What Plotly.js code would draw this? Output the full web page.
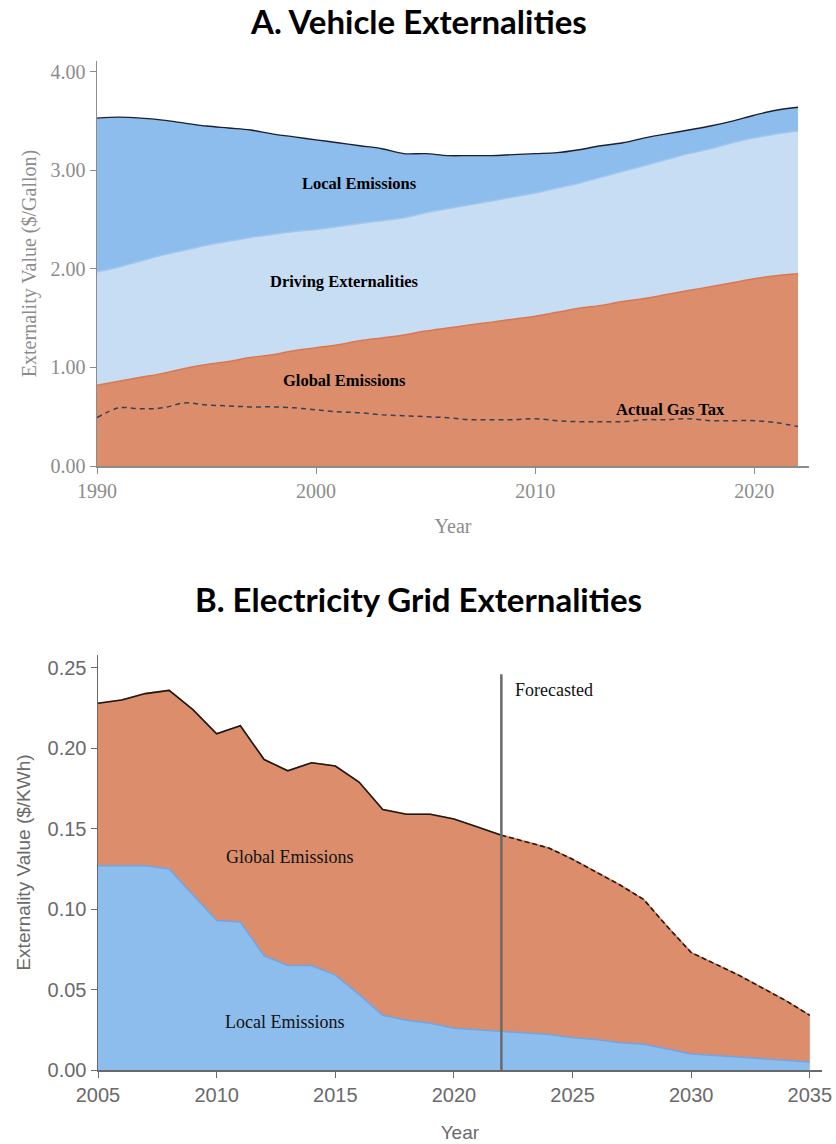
<!DOCTYPE html>
<html>
<head>
<meta charset="utf-8">
<script src="https://cdn.plot.ly/plotly-3.0.1.min.js"></script>
<style>html,body{margin:0;padding:0;background:#fff;}#chart{width:836px;height:1144px;}</style>
</head>
<body>
<div id="chart"></div>
<script>
// ---------- Panel A: Vehicle externalities ($/gallon) ----------
const yearsA = [1990,1991,1992,1993,1994,1995,1996,1997,1998,1999,2000,2001,2002,2003,2004,2005,2006,2007,2008,2009,2010,2011,2012,2013,2014,2015,2016,2017,2018,2019,2020,2021,2022];
const globalA = [0.82,0.86,0.90,0.94,0.99,1.03,1.06,1.10,1.13,1.17,1.20,1.23,1.27,1.30,1.33,1.37,1.40,1.43,1.46,1.49,1.52,1.56,1.60,1.63,1.67,1.70,1.74,1.78,1.82,1.86,1.90,1.93,1.95];
const drivingA = [1.15,1.16,1.18,1.20,1.20,1.21,1.22,1.22,1.22,1.21,1.20,1.20,1.19,1.19,1.19,1.20,1.21,1.22,1.23,1.24,1.25,1.26,1.27,1.30,1.32,1.35,1.37,1.39,1.40,1.42,1.43,1.44,1.45];
const localA = [1.56,1.52,1.45,1.37,1.29,1.21,1.15,1.09,1.02,0.96,0.91,0.85,0.79,0.73,0.65,0.60,0.54,0.50,0.46,0.43,0.40,0.36,0.34,0.32,0.29,0.28,0.26,0.24,0.23,0.22,0.23,0.24,0.24];
const gasTaxA = [0.49,0.59,0.58,0.59,0.64,0.62,0.61,0.60,0.60,0.59,0.57,0.55,0.54,0.52,0.51,0.50,0.49,0.47,0.47,0.47,0.48,0.46,0.45,0.45,0.45,0.47,0.47,0.48,0.46,0.46,0.46,0.44,0.40];

// ---------- Panel B: Electricity grid externalities ($/kWh) ----------
const yearsB = [2005,2006,2007,2008,2009,2010,2011,2012,2013,2014,2015,2016,2017,2018,2019,2020,2021,2022,2023,2024,2025,2026,2027,2028,2029,2030,2031,2032,2033,2034,2035];
const localB = [0.127,0.127,0.127,0.125,0.109,0.093,0.092,0.071,0.065,0.065,0.059,0.047,0.034,0.031,0.029,0.026,0.025,0.024,0.023,0.022,0.020,0.019,0.017,0.016,0.013,0.010,0.009,0.008,0.007,0.006,0.005];
const globalB = [0.101,0.103,0.107,0.111,0.115,0.116,0.122,0.122,0.121,0.126,0.130,0.132,0.128,0.128,0.130,0.130,0.126,0.122,0.119,0.116,0.111,0.104,0.098,0.090,0.076,0.063,0.057,0.051,0.044,0.037,0.029];
const forecastStart = 2022;

const orangeFill = 'rgb(220,142,108)';
const orangeLine = 'rgb(217,120,80)';
const blueFill = 'rgb(141,189,237)';
const blueLine = 'rgb(110,166,229)';
const lightBlueFill = 'rgb(199,221,243)';
const lightBlueLine = 'rgb(160,198,238)';

const totalB = yearsB.map((y,i)=>localB[i]+globalB[i]);
const histX = [], histY = [], fcX = [], fcY = [];
yearsB.forEach((y,i)=>{
  if (y <= forecastStart) { histX.push(y); histY.push(totalB[i]); }
  if (y >= forecastStart) { fcX.push(y); fcY.push(totalB[i]); }
});

const traces = [
  {x: yearsA, y: globalA, stackgroup: 'a', type: 'scatter', mode: 'lines', fillcolor: orangeFill,
   line: {color: orangeLine, width: 1.5, shape: 'spline'}, xaxis: 'x', yaxis: 'y', hoverinfo: 'skip'},
  {x: yearsA, y: drivingA, stackgroup: 'a', type: 'scatter', mode: 'lines', fillcolor: lightBlueFill,
   line: {color: lightBlueLine, width: 1.5, shape: 'spline'}, xaxis: 'x', yaxis: 'y', hoverinfo: 'skip'},
  {x: yearsA, y: localA, stackgroup: 'a', type: 'scatter', mode: 'lines', fillcolor: blueFill,
   line: {color: '#1c2030', width: 1.4, shape: 'spline'}, xaxis: 'x', yaxis: 'y', hoverinfo: 'skip'},
  {x: yearsA, y: gasTaxA, type: 'scatter', mode: 'lines',
   line: {color: '#3b3f55', width: 1.5, dash: '5px,4px', shape: 'spline'}, xaxis: 'x', yaxis: 'y', hoverinfo: 'skip'},

  {x: yearsB, y: localB, stackgroup: 'b', type: 'scatter', mode: 'lines', fillcolor: blueFill,
   line: {color: blueLine, width: 1.5}, xaxis: 'x2', yaxis: 'y2', hoverinfo: 'skip'},
  {x: yearsB, y: globalB, stackgroup: 'b', type: 'scatter', mode: 'lines', fillcolor: orangeFill,
   line: {color: orangeLine, width: 1.5}, xaxis: 'x2', yaxis: 'y2', hoverinfo: 'skip'},
  {x: histX, y: histY, type: 'scatter', mode: 'lines', line: {color: '#1a1a1a', width: 1.6},
   xaxis: 'x2', yaxis: 'y2', hoverinfo: 'skip'},
  {x: fcX, y: fcY, type: 'scatter', mode: 'lines', line: {color: '#1a1a1a', width: 1.6, dash: '5px,3px'},
   xaxis: 'x2', yaxis: 'y2', hoverinfo: 'skip'}
];

const serifA = 'Liberation Serif, DejaVu Serif, serif';
const sansB = 'Liberation Sans, Arial, sans-serif';
const titleFont = 'Lato, DejaVu Sans, sans-serif';
const greyA = '#8c8c8c';
const greyB = '#6a6a6a';

const layout = {
  width: 836, height: 1144,
  margin: {l: 0, r: 0, t: 0, b: 0},
  paper_bgcolor: '#fff', plot_bgcolor: 'rgba(0,0,0,0)',
  showlegend: false,
  xaxis: {
    domain: [97/836, 809/836], anchor: 'y', range: [1990, 2022.5],
    tickvals: [1990, 2000, 2010, 2020], showgrid: false, zeroline: false,
    showline: true, linecolor: greyA, linewidth: 1.5,
    ticks: 'outside', ticklen: 6, tickcolor: greyA,
    tickfont: {family: serifA, size: 20, color: greyA},
    title: {text: 'Year', font: {family: serifA, size: 20, color: greyA}, standoff: 18}
  },
  yaxis: {
    domain: [1 - 466/1144, 1 - 61/1144], anchor: 'x', range: [0, 4.11],
    tickvals: [0, 1, 2, 3, 4], tickformat: '.2f', showgrid: false, zeroline: false,
    showline: true, linecolor: greyA, linewidth: 1.5,
    ticks: 'outside', ticklen: 6, tickcolor: greyA,
    tickfont: {family: serifA, size: 20, color: greyA},
    title: {text: 'Externality Value ($/Gallon)', font: {family: serifA, size: 20, color: greyA}, standoff: 8}
  },
  xaxis2: {
    domain: [98/836, 821.7/836], anchor: 'y2', range: [2005, 2035.5],
    tickvals: [2005, 2010, 2015, 2020, 2025, 2030, 2035], showgrid: false, zeroline: false,
    showline: true, linecolor: greyB, linewidth: 1.5,
    ticks: 'outside', ticklen: 6, tickcolor: greyB,
    tickfont: {family: sansB, size: 20, color: greyB},
    title: {text: 'Year', font: {family: sansB, size: 19, color: greyB}, standoff: 21}
  },
  yaxis2: {
    domain: [1 - 1070/1144, 1 - 655/1144], anchor: 'x2', range: [0, 0.258],
    tickvals: [0, 0.05, 0.10, 0.15, 0.20, 0.25], tickformat: '.2f', showgrid: false, zeroline: false,
    showline: true, linecolor: greyB, linewidth: 1.5,
    ticks: 'outside', ticklen: 6, tickcolor: greyB,
    tickfont: {family: sansB, size: 20, color: greyB},
    title: {text: 'Externality Value ($/KWh)', font: {family: sansB, size: 19, color: greyB}, standoff: 12}
  },
  shapes: [
    {type: 'line', xref: 'x2', yref: 'y2', x0: forecastStart, x1: forecastStart, y0: 0, y1: 0.246,
     line: {color: '#6a6a6a', width: 2.5}}
  ],
  annotations: [
    {text: '<b>A. Vehicle Externalities</b>', xref: 'paper', yref: 'paper', x: 0.5, y: 1 - 21/1144,
     xanchor: 'center', yanchor: 'middle', showarrow: false, font: {family: titleFont, size: 33, color: '#000'}},
    {text: '<b>B. Electricity Grid Externalities</b>', xref: 'paper', yref: 'paper', x: 0.5, y: 1 - 599/1144,
     xanchor: 'center', yanchor: 'middle', showarrow: false, font: {family: titleFont, size: 33, color: '#000'}},
    {text: '<b>Local Emissions</b>', xref: 'x', yref: 'y', x: 2002.0, y: 2.87, showarrow: false,
     font: {family: serifA, size: 16.5, color: '#000'}},
    {text: '<b>Driving Externalities</b>', xref: 'x', yref: 'y', x: 2001.3, y: 1.87, showarrow: false,
     font: {family: serifA, size: 16.5, color: '#000'}},
    {text: '<b>Global Emissions</b>', xref: 'x', yref: 'y', x: 2001.3, y: 0.87, showarrow: false,
     font: {family: serifA, size: 16.5, color: '#000'}},
    {text: '<b>Actual Gas Tax</b>', xref: 'x', yref: 'y', x: 2016.2, y: 0.575, showarrow: false,
     font: {family: serifA, size: 16.5, color: '#000'}},
    {text: 'Global Emissions', xref: 'x2', yref: 'y2', x: 2013.1, y: 0.1326, showarrow: false,
     font: {family: serifA, size: 18, color: '#111'}},
    {text: 'Local Emissions', xref: 'x2', yref: 'y2', x: 2012.9, y: 0.030, showarrow: false,
     font: {family: serifA, size: 18, color: '#111'}},
    {text: 'Forecasted', xref: 'x2', yref: 'y2', x: 2022.5, y: 0.2365, xanchor: 'left', showarrow: false,
     font: {family: serifA, size: 18, color: '#111'}}
  ]
};

Plotly.newPlot('chart', traces, layout, {staticPlot: true, displayModeBar: false});
</script>
</body>
</html>
